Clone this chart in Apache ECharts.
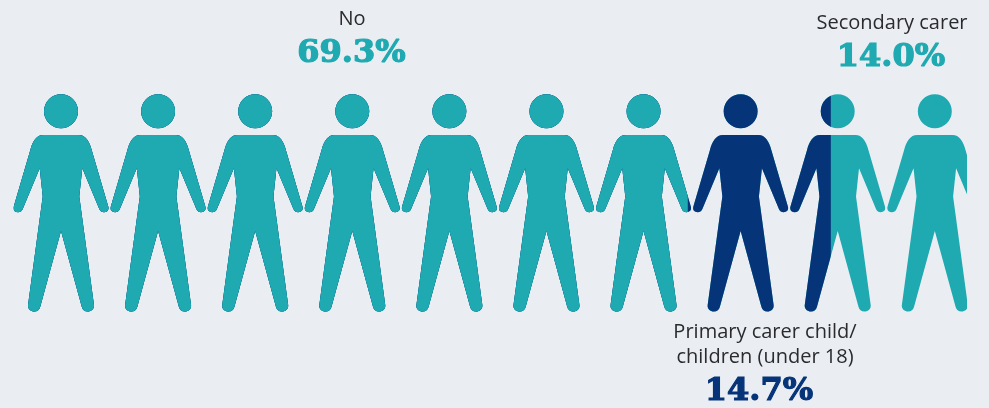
<!DOCTYPE html>
<html>
<head>
<meta charset="utf-8">
<style>html,body{margin:0;padding:0;background:#eaeef3;}#chart{width:989px;height:408px;}</style>
<script src="https://cdn.jsdelivr.net/npm/echarts@6/dist/echarts.min.js"></script>
</head>
<body>
<div id="chart"></div>
<script>
// Share of respondents by caring role, in percent, left to right along the row of figures
const shareNo = 69.3;
const sharePrimary = 14.7;
const shareSecondary = 14.0;

const labelNo = ['No'];
const labelPrimary = ['Primary carer child/', 'children (under 18)'];
const labelSecondary = ['Secondary carer'];

const personCount = 10;

const TEAL = '#1fa9b1';
const NAVY = '#063478';
const INK = '#2b2b2e';

// One standing figure: head plus mirrored body, 95 wide by 217.3 tall
const personPath = 'path://M30.5 17A17 17 0 1 1 64.5 17A17 17 0 1 1 30.5 17Z' +
  'M29.8 40.7L65.2 40.7C72 40.7 76 47 78.2 55.7L94.8 112.3C95.8 116 93.5 118 90.5 118' +
  'C88.5 118 86.8 116.8 85.8 114.7L68.8 74L65.8 102.3L80.5 210.7C81 214.5 78 217.3 74.2 217.3' +
  'C71.2 217.3 69 215.5 68.2 212.3L47.5 136.7L26.8 212.3C26 215.5 23.8 217.3 20.8 217.3' +
  'C17 217.3 14 214.5 14.5 210.7L29.2 102.3L26.2 74L9.2 114.7C8.2 116.8 6.5 118 4.5 118' +
  'C1.5 118 -0.8 116 0.2 112.3L16.8 55.7C19 47 23 40.7 29.8 40.7Z';

// Each band is a clipped copy of the full row; the widest goes underneath
function band(name, cumulative, color) {
  return {
    name,
    type: 'pictorialBar',
    data: [cumulative],
    symbol: personPath,
    symbolSize: [95, 217.3],
    symbolRepeat: personCount,
    symbolMargin: 0,
    symbolClip: true,
    symbolPosition: 'start',
    symbolBoundingData: 99.57,
    barGap: '-100%',
    silent: true,
    itemStyle: { color }
  };
}

// Multi-line caption with a bold percentage underneath
function caption(lines, lineTops, share, shareTop, shareX, textX, color) {
  const els = lines.map((line, i) => ({
    type: 'text', x: textX, y: lineTops[i],
    style: {
      text: line, fill: INK, align: 'center', verticalAlign: 'middle',
      font: '20px "Open Sans"'
    }
  }));
  els.push({
    type: 'text', x: shareX, y: shareTop,
    style: {
      text: share.toFixed(1) + '%', fill: color, stroke: color, lineWidth: 1.2,
      align: 'center', verticalAlign: 'middle',
      font: 'bold 32px "DejaVu Serif"'
    }
  });
  return els;
}

const chart = echarts.init(document.getElementById('chart'), null, { renderer: 'canvas' });
chart.setOption({
  animation: false,
  backgroundColor: '#eaeef3',
  grid: { left: 13.5, top: 94.3, width: 973, height: 217.3, containLabel: false },
  xAxis: { type: 'value', min: 0, max: 100, show: false },
  yAxis: { type: 'category', data: ['share'], show: false },
  series: [
    band('Secondary carer', shareNo + sharePrimary + shareSecondary, TEAL),
    band('Primary carer', shareNo + sharePrimary, NAVY),
    band('No', shareNo, TEAL)
  ],
  graphic: [
    ...caption(labelNo, [19], shareNo, 54, 351.5, 352, TEAL),
    ...caption(labelSecondary, [23], shareSecondary, 58, 891, 892, TEAL),
    ...caption(labelPrimary, [332, 357], sharePrimary, 392, 759, 765, NAVY)
  ]
});
</script>
</body>
</html>
